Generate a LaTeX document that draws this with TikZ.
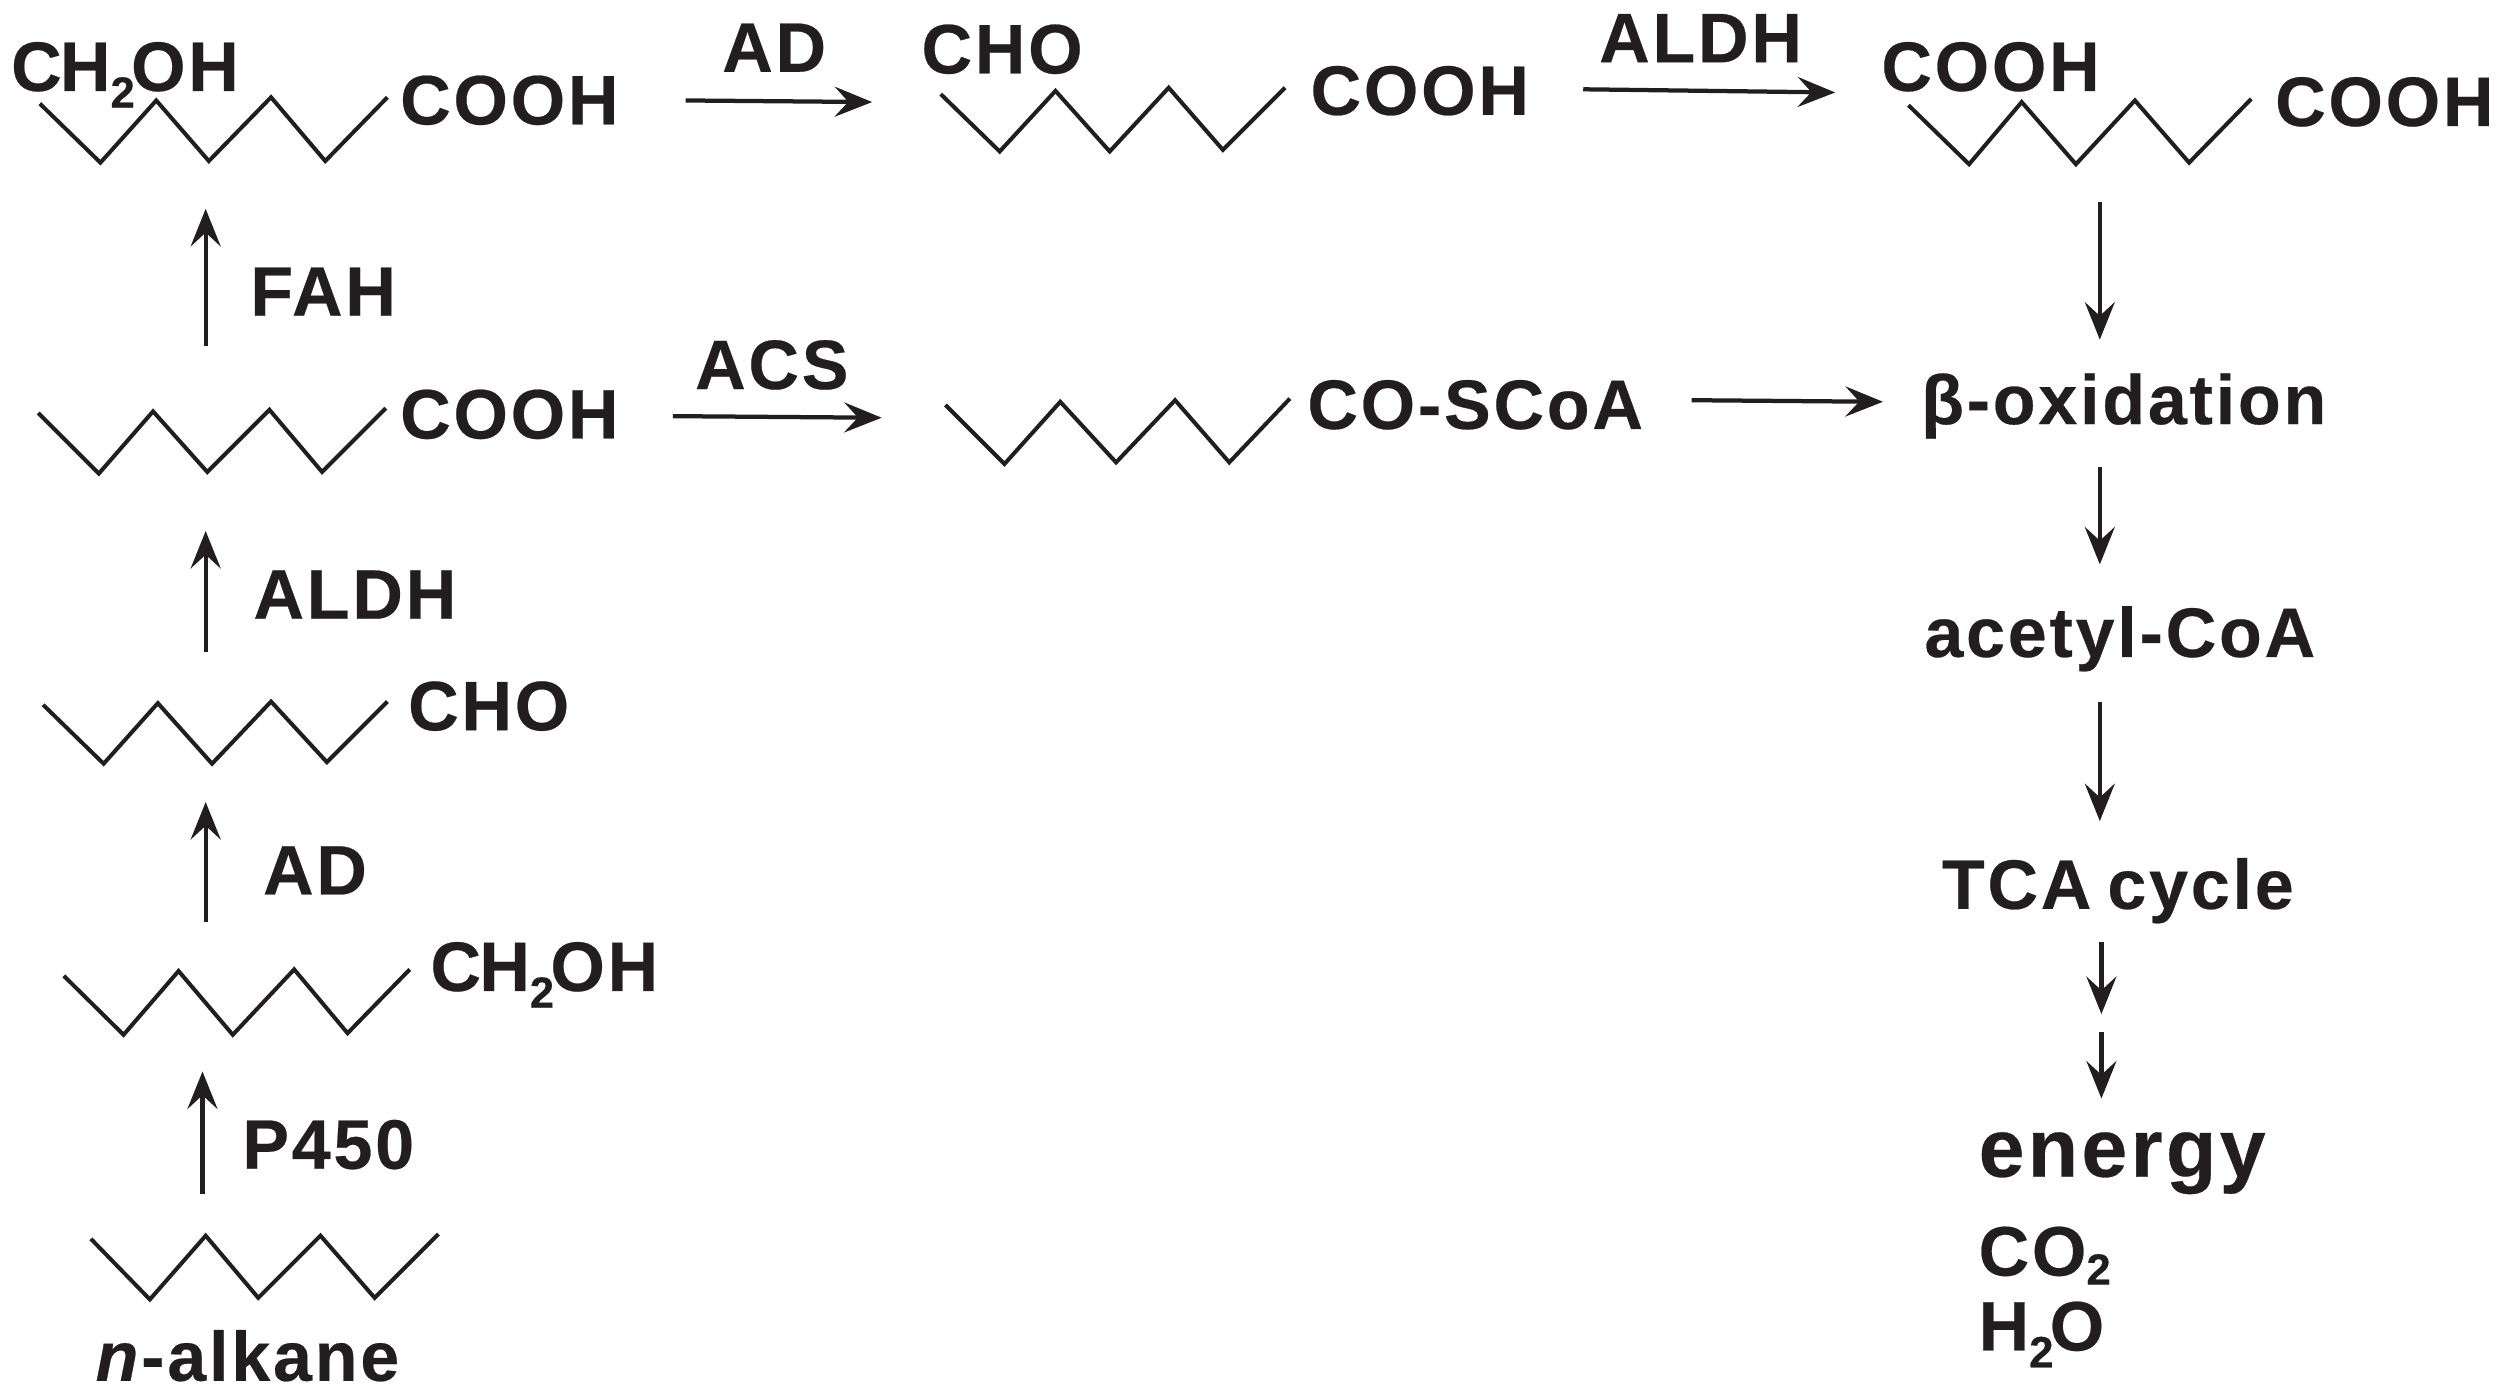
\documentclass[tikz,border=0pt]{standalone}
\usepackage{fontspec}
\setmainfont[LetterSpace=4,BoldFeatures={FakeBold=0.35},BoldItalicFeatures={FakeBold=0.35}]{Liberation Sans}
\usetikzlibrary{arrows.meta}
\definecolor{ink}{HTML}{221E1F}
\newcommand{\subtwo}[1][-0.24em]{\raisebox{#1}{\fontsize{17.5}{20}\selectfont 2}}
\tikzset{
  lab/.style={anchor=base west,inner sep=0pt,outer sep=0pt,text=ink,font=\fontsize{28}{30}\selectfont\bfseries},
  big/.style={lab,font=\fontsize{33}{36}\selectfont\bfseries},
  bond/.style={draw=ink,line width=1.6pt,miter limit=10},
  rxn/.style={draw=ink,line width=1.7pt,-{Stealth[length=15pt,width=12pt,inset=5.5pt]}}
}
\begin{document}
\begin{tikzpicture}[x=0.6378pt,y=-0.6378pt]
\useasboundingbox (0,0) rectangle (1568,874);
% carbon chains
\draw[bond] (25,65) -- (63,102) -- (98,63) -- (131,101) -- (170,61) -- (204,101) -- (243,61);
\draw[bond] (24,259) -- (62,297) -- (96,258) -- (130,296) -- (169,257) -- (202,296) -- (242,256);
\draw[bond] (27,442) -- (65,479) -- (99,441) -- (133,479) -- (170,440) -- (205,478) -- (243,440);
\draw[bond] (40,612) -- (77.5,649) -- (112,609) -- (146,649) -- (184.5,608) -- (218,648) -- (257,608);
\draw[bond] (57,777) -- (94,815) -- (129,775) -- (162,814) -- (201,775) -- (235,814) -- (275,774);
\draw[bond] (590,59) -- (627,95) -- (662,57) -- (696,95) -- (733,55) -- (767,94) -- (806,55);
\draw[bond] (1197,66) -- (1235,103) -- (1268,64) -- (1302,103) -- (1339,63) -- (1373,102) -- (1412,62);
\draw[bond] (593,254) -- (630,291) -- (665,252) -- (700,290) -- (737,251) -- (771,290) -- (809,250);
% labels
\node[lab] (ch2ohtop) at (7,57) {C\kern-0.7pt H\subtwo\kern-1.5pt OH};
\node[lab] (cooha) at (251,78) {COOH};
\node[lab] (adtop) at (453,45) {AD};
\node[lab] (chotop) at (578,46) {CHO};
\node[lab] (coohb) at (822,72) {COOH};
\node[lab] (aldhtop) at (1003,39) {ALDH};
\node[lab] (coohc) at (1180,57) {COOH};
\node[lab] (coohd) at (1427,79) {COOH};
\node[lab] (fah) at (157,198) {FAH};
\node[lab] (acs) at (436,244) {ACS};
\node[lab] (coohe) at (251,275) {COOH};
\node[lab] (coscoa) at (820,269) {CO-SCoA};
\node[lab] (beta) at (1205,266) {β-oxidation};
\node[lab] (aldh) at (159,388) {ALDH};
\node[lab] (acetyl) at (1207,412) {acetyl-CoA};
\node[lab] (cho) at (256,458) {CHO};
\node[lab] (ad) at (165,561) {AD};
\node[lab] (tca) at (1218,570) {TCA\hspace{-2.5pt} cycle};
\node[lab] (ch2oh) at (270,621.5) {C\kern-0.7pt H\subtwo\kern-1.5pt OH};
\node[lab] (pfourfifty) at (152,733) {P450};
\node[big] (energy) at (1241,738) {energy};
\node[lab] (co) at (1241,800) {CO\subtwo[-0.13em]};
\node[lab] (water) at (1241,847) {H\subtwo\kern-1.5pt O};
\node[lab] (alkane) at (60,866) {\textit{n}-alkane};
% midpoints between the two arrows below the TCA cycle
\coordinate (tcaend) at (1318,636);
\coordinate (enstart) at (1318,647);
% connectors
\draw[rxn] ([shift={(67,-117)}]alkane.base west) -- ([shift={(-143,50.5)}]ch2oh.base west);
\draw[rxn] ([shift={(-141,-43.5)}]ch2oh.base west) -- ([shift={(-127,45)}]cho.base west);
\draw[rxn] ([shift={(-127,-49)}]cho.base west) -- ([shift={(-122,58)}]coohe.base west);
\draw[rxn] ([shift={(-122,-58)}]coohe.base west) -- ([shift={(-122,53)}]cooha.base west);
\draw[rxn] ([shift={(179,-15)}]cooha.base west) -- ([shift={(-31,18)}]chotop.base west);
\draw[rxn] ([shift={(171,-16)}]coohb.base west) -- ([shift={(-29,1)}]coohc.base west);
\draw[rxn] ([shift={(171,-14)}]coohe.base west) -- ([shift={(-267,-7)}]coscoa.base west);
\draw[rxn] ([shift={(241,-18)}]coscoa.base west) -- ([shift={(-24,-14)}]beta.base west);
\draw[rxn] ([shift={(137,70)}]coohc.base west) -- ([shift={(112,-53)}]beta.base west);
\draw[rxn] ([shift={(112,27)}]beta.base west) -- ([shift={(110,-58)}]acetyl.base west);
\draw[rxn] ([shift={(110,28)}]acetyl.base west) -- ([shift={(99,-55)}]tca.base west);
\draw[rxn] ([shift={(100,21)}]tca.base west) -- (tcaend);
\draw[rxn] (enstart) -- ([shift={(77,-49)}]energy.base west);
\end{tikzpicture}
\end{document}
